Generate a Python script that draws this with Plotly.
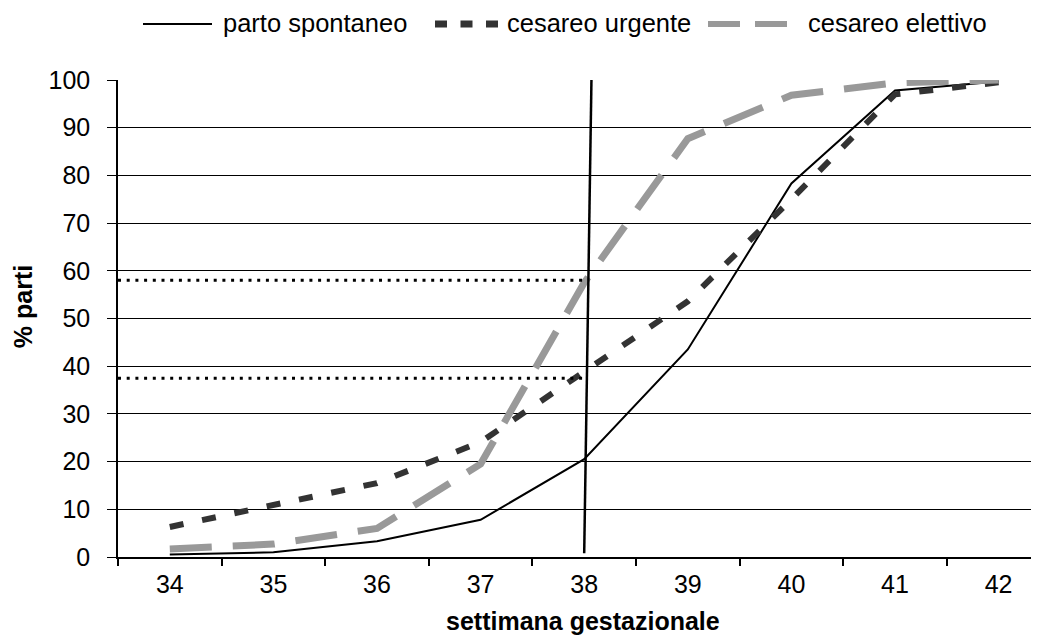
import plotly.graph_objects as go

# ---- data ----
weeks = [34, 35, 36, 37, 38, 39, 40, 41, 42]
spontaneo = [0.5, 1.0, 3.3, 7.8, 20.5, 43.5, 78.3, 97.8, 99.7]
urgente = [6.3, 10.8, 15.5, 24.1, 39.0, 53.6, 75.0, 97.0, 99.5]
elettivo = [1.7, 2.7, 6.0, 19.5, 57.5, 87.7, 96.8, 99.4, 100.0]
tick_labels = [str(w) for w in weeks]
y_ticks = list(range(0, 101, 10))

# reference lines (week 38 marker and the two read-off levels)
ref_week_x = [38.0, 38.07]
ref_week_y = [0.8, 100.0]
ref_levels = [58.0, 37.5]

names = ["parto spontaneo", "cesareo urgente", "cesareo elettivo"]

FONT = "Liberation Sans, Arial, sans-serif"
OFF = 8  # page body margin
W, H = 1039 - OFF, 635 - OFF
ML, MR, MT = 118 - OFF, 0, 80 - OFF
PLOT_BOTTOM = 556.7 - OFF
MB = H - PLOT_BOTTOM
PW, PH = W - ML - MR, PLOT_BOTTOM - MT
unit = 103.6
x_lo = weeks[0] - 0.5
x_hi = x_lo + PW / unit


def px_x(p):
    return (p - OFF - ML) / PW


def px_y(p):
    return (PLOT_BOTTOM - (p - OFF)) / PH


fig = go.Figure()
fig.add_trace(go.Scatter(x=weeks, y=spontaneo, mode="lines", name=names[0],
                         line=dict(color="black", width=2), showlegend=False))
fig.add_trace(go.Scatter(x=weeks, y=urgente, mode="lines", name=names[1],
                         line=dict(color="#333333", width=6, dash="14px,19px"), showlegend=False))
fig.add_trace(go.Scatter(x=weeks, y=elettivo, mode="lines", name=names[2],
                         line=dict(color="#999999", width=7, dash="42px,21px"), showlegend=False))

shapes = []
# vertical reference line at week 38
shapes.append(dict(type="line", xref="x", yref="y", x0=ref_week_x[0], y0=ref_week_y[0],
                   x1=ref_week_x[1], y1=ref_week_y[1], line=dict(color="black", width=2.5)))
for lv in ref_levels:
    shapes.append(dict(type="line", xref="x", yref="y", x0=x_lo, y0=lv, x1=ref_week_x[0], y1=lv,
                       line=dict(color="black", width=3, dash="3px,5.7px")))

# manual legend
leg_y = px_y(24)
shapes.append(dict(type="line", xref="paper", yref="paper", x0=px_x(143), x1=px_x(212),
                   y0=leg_y, y1=leg_y, line=dict(color="black", width=2)))
shapes.append(dict(type="line", xref="paper", yref="paper", x0=px_x(435), x1=px_x(498),
                   y0=leg_y, y1=leg_y, line=dict(color="#333333", width=7, dash="12px,13.5px")))
shapes.append(dict(type="line", xref="paper", yref="paper", x0=px_x(708), x1=px_x(787),
                   y0=leg_y, y1=leg_y, line=dict(color="#999999", width=6, dash="32px,15px")))

annotations = []
for name, xpx in zip(names, [221, 505, 806]):
    annotations.append(dict(text=name, xref="paper", yref="paper", x=px_x(xpx), y=px_y(23),
                            xanchor="left", yanchor="middle", showarrow=False,
                            font=dict(family=FONT, size=25.5, color="black")))
annotations.append(dict(text="<b>settimana gestazionale</b>", xref="paper", yref="paper",
                        x=px_x(583), y=px_y(621), xanchor="center", yanchor="middle",
                        showarrow=False, font=dict(family=FONT, size=25, color="black")))
annotations.append(dict(text="<b>% parti</b>", xref="paper", yref="paper", textangle=-90,
                        x=px_x(23), y=px_y(307), xanchor="center", yanchor="middle",
                        showarrow=False, font=dict(family=FONT, size=25, color="black")))

fig.update_layout(
    width=W, height=H,
    margin=dict(l=ML, r=MR, t=MT, b=MB, pad=0),
    paper_bgcolor="white", plot_bgcolor="white",
    font=dict(family=FONT, size=25, color="black"),
    showlegend=False,
    shapes=shapes, annotations=annotations,
    xaxis=dict(range=[x_lo, x_hi], tickvals=weeks, ticktext=tick_labels,
               ticks="", showgrid=False, zeroline=False,
               showline=True, linecolor="black", linewidth=1.5,
               ticklabelstandoff=4,
               minor=dict(tickvals=[w - 0.5 for w in weeks], ticks="outside", ticklen=7,
                          tickcolor="black", tickwidth=1.5, showgrid=False),
               tickfont=dict(family=FONT, size=25, color="black")),
    yaxis=dict(range=[0, 100], tickvals=y_ticks, ticks="outside", ticklen=9,
               tickcolor="black", tickwidth=1.2, showgrid=True, gridcolor="black", gridwidth=1.2,
               zeroline=False, showline=True, linecolor="black", linewidth=1.5,
               ticklabelstandoff=12,
               tickfont=dict(family=FONT, size=25, color="black")),
)

fig.write_html("out.html")
